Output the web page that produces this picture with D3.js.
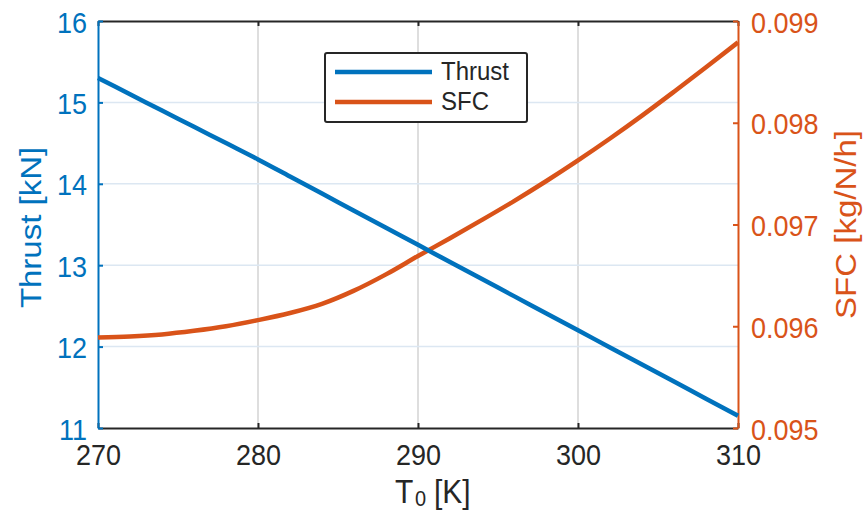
<!DOCTYPE html>
<html>
<head>
<meta charset="utf-8">
<script src="https://cdn.jsdelivr.net/npm/d3@7/dist/d3.min.js"></script>
<style>
  html, body { margin: 0; padding: 0; background: #fff; }
  svg { display: block; }
  text { font-family: "Liberation Sans", Arial, sans-serif; }
</style>
</head>
<body>
<svg id="chart" width="864" height="510"></svg>
<script>
// ---- data ----
const temperature = [270, 272, 274, 276, 278, 280, 282, 284, 286, 288, 290, 292, 294, 296, 298, 300, 302, 304, 306, 308, 310];
const thrust = [15.30, 15.10, 14.90, 14.70, 14.50, 14.30, 14.09, 13.88, 13.67, 13.46, 13.25, 13.04, 12.83, 12.62, 12.41, 12.20, 11.99, 11.78, 11.57, 11.36, 11.15];
const sfc = [0.09589, 0.09590, 0.09592, 0.095955, 0.09600, 0.09606, 0.09613, 0.09622, 0.09635, 0.09651, 0.09669, 0.096865, 0.097045, 0.09723, 0.097425, 0.09763, 0.097845, 0.09807, 0.098305, 0.098545, 0.09879];
const xTicks = [270, 280, 290, 300, 310];
const leftTicks = [11, 12, 13, 14, 15, 16];
const rightTicks = [0.095, 0.096, 0.097, 0.098, 0.099];
const seriesNames = ["Thrust", "SFC"];

// ---- styling ----
const BLUE = "#0072BD", ORANGE = "#D95319", DARK = "#262626";
const L = 98, R = 738, T = 21, B = 428;
const SY = 1.1; // vertical stretch of text in reference
const LW = 4.5;

const svg = d3.select("#chart");
const x = d3.scaleLinear().domain([270, 310]).range([L, R]);
const yL = d3.scaleLinear().domain([11, 16]).range([B, T]);
const yR = d3.scaleLinear().domain([0.095, 0.099]).range([B, T]);

function stretch(sel) {
  sel.each(function () {
    const t = d3.select(this);
    const px = +t.attr("x") || 0, py = +t.attr("y") || 0;
    t.attr("transform", `translate(${px},${py}) scale(1,${SY}) translate(${-px},${-py})`);
  });
}

// grid
svg.append("g").selectAll("line").data(xTicks.slice(1, -1)).join("line")
  .attr("x1", d => x(d)).attr("x2", d => x(d)).attr("y1", T).attr("y2", B)
  .attr("stroke", "#d3d3d3").attr("stroke-width", 1.5);
svg.append("g").selectAll("line").data(leftTicks.slice(1, -1)).join("line")
  .attr("x1", L).attr("x2", R).attr("y1", d => yL(d)).attr("y2", d => yL(d))
  .attr("stroke", "#dce7f2").attr("stroke-width", 1.5);

// axes
function styleAxis(g, color) {
  g.select(".domain").attr("stroke", color).attr("stroke-width", 2);
  g.selectAll(".tick line").attr("stroke", color).attr("stroke-width", 2);
  g.selectAll(".tick text").attr("fill", color).attr("font-size", 27)
    .attr("font-family", '"Liberation Sans", Arial, sans-serif');
}

const gBottom = svg.append("g").attr("transform", `translate(0,${B})`)
  .call(d3.axisBottom(x).tickValues(xTicks).tickSizeInner(-5).tickSizeOuter(0).tickFormat(d3.format("d")));
styleAxis(gBottom, DARK);
gBottom.selectAll(".tick text").attr("y", 37).attr("dy", null);
stretch(gBottom.selectAll(".tick text"));

const gTop = svg.append("g").attr("transform", `translate(0,${T})`)
  .call(d3.axisTop(x).tickValues(xTicks).tickSizeInner(-5).tickSizeOuter(0).tickFormat(""));
styleAxis(gTop, DARK);

const gLeft = svg.append("g").attr("transform", `translate(${L},0)`)
  .call(d3.axisLeft(yL).tickValues(leftTicks).tickSizeInner(-5).tickSizeOuter(0).tickFormat(d3.format("d")));
styleAxis(gLeft, BLUE);
gLeft.selectAll(".tick text").attr("x", -11).attr("y", 11).attr("dy", null);
stretch(gLeft.selectAll(".tick text"));

const gRight = svg.append("g").attr("transform", `translate(${R},0)`)
  .call(d3.axisRight(yR).tickValues(rightTicks).tickSizeInner(-5).tickSizeOuter(0).tickFormat(d3.format(".3f")));
styleAxis(gRight, ORANGE);
gRight.selectAll(".tick text").attr("x", 13).attr("y", 11).attr("dy", null);
stretch(gRight.selectAll(".tick text"));

// lines
const thrustLine = d3.line().x((d, i) => x(temperature[i])).y(d => yL(d)).curve(d3.curveMonotoneX);
const sfcLine = d3.line().x((d, i) => x(temperature[i])).y(d => yR(d)).curve(d3.curveMonotoneX);

svg.append("path").datum(sfc).attr("d", sfcLine)
  .attr("fill", "none").attr("stroke", ORANGE).attr("stroke-width", LW).attr("stroke-linejoin", "round");
svg.append("path").datum(thrust).attr("d", thrustLine)
  .attr("fill", "none").attr("stroke", BLUE).attr("stroke-width", LW).attr("stroke-linejoin", "round");

// axis labels
svg.append("text").attr("transform", `translate(41,${(T + B) / 2 + 3}) rotate(-90) scale(${SY},1)`)
  .attr("text-anchor", "middle").attr("font-size", 30).attr("fill", BLUE).text("Thrust [kN]");
svg.append("text").attr("transform", `translate(856,${(T + B) / 2}) rotate(-90) scale(${SY},1)`)
  .attr("text-anchor", "middle").attr("font-size", 30).attr("fill", ORANGE).text("SFC [kg/N/h]");

const xl = svg.append("text").attr("x", 395).attr("y", 503).attr("fill", DARK).attr("font-size", 30);
xl.append("tspan").text("T");
xl.append("tspan").attr("x", 415).attr("y", 506).attr("font-size", 20).text("0");
xl.append("tspan").attr("x", 434).attr("y", 503).text("[K]");
stretch(xl);

// legend
const lg = svg.append("g");
lg.append("rect").attr("x", 325).attr("y", 53).attr("width", 202).attr("height", 69).attr("rx", 2)
  .attr("fill", "#fff").attr("stroke", DARK).attr("stroke-width", 2);
const colors = [BLUE, ORANGE];
const items = lg.selectAll("g.item").data(seriesNames).join("g").attr("class", "item")
  .attr("transform", (d, i) => `translate(0,${72 + i * 30})`);
items.append("line").attr("x1", 335).attr("x2", 432).attr("y1", 0).attr("y2", 0)
  .attr("stroke", (d, i) => colors[i]).attr("stroke-width", LW);
items.append("text").attr("x", 441).attr("y", 8).attr("font-size", 24).attr("fill", DARK).text(d => d)
  .each(function () {
    d3.select(this).attr("transform", `translate(441,8) scale(1,${SY}) translate(-441,-8)`);
  });
</script>
</body>
</html>
